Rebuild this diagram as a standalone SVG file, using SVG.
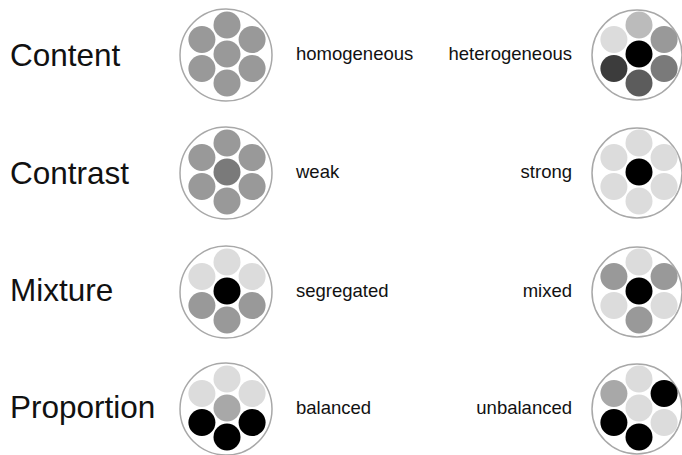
<svg xmlns="http://www.w3.org/2000/svg" width="682" height="455" viewBox="0 0 682 455">
<style>
.bg{fill:#ffffff}
.ring{fill:#ffffff;stroke:#a8a8a8;stroke-width:1.5}
.title{font-family:"Liberation Sans",Arial,sans-serif;font-size:31.5px;fill:#111111}
.lbl{font-family:"Liberation Sans",Arial,sans-serif;font-size:18.5px;fill:#111111}
.end{text-anchor:end}
.k{fill:#000000}
.g1{fill:#dcdcdc}
.g2{fill:#bbbbbb}
.g3{fill:#a8a8a8}
.g4{fill:#999999}
.g5{fill:#7a7a7a}
.g6{fill:#5c5c5c}
.g7{fill:#3c3c3c}
</style>
<defs>
<circle id="d" r="13.5"/>
</defs>
<rect class="bg" width="682" height="455"/>

<!-- row labels -->
<g id="row-content"><text class="title" x="10" y="66">Content</text></g>
<g id="row-contrast"><text class="title" x="10" y="184">Contrast</text></g>
<g id="row-mixture"><text class="title" x="10" y="301">Mixture</text></g>
<g id="row-proportion"><text class="title" x="10" y="418">Proportion</text></g>

<!-- Content: homogeneous -->
<g id="homogeneous">
<circle class="ring" cx="226" cy="55" r="46"/>
<g transform="translate(227,54)">
<use href="#d" class="g4" x="0" y="-29"/>
<use href="#d" class="g4" x="-25.1" y="-14.5"/>
<use href="#d" class="g4" x="25.1" y="-14.5"/>
<use href="#d" class="g4" x="0" y="0"/>
<use href="#d" class="g4" x="-25.1" y="14.5"/>
<use href="#d" class="g4" x="25.1" y="14.5"/>
<use href="#d" class="g4" x="0" y="29"/>
</g>
<text class="lbl" x="296" y="60">homogeneous</text>
</g>

<!-- Content: heterogeneous -->
<g id="heterogeneous">
<circle class="ring" cx="637" cy="55" r="45"/>
<g transform="translate(639,54)">
<use href="#d" class="g2" x="0" y="-29"/>
<use href="#d" class="g1" x="-25.1" y="-14.5"/>
<use href="#d" class="g4" x="25.1" y="-14.5"/>
<use href="#d" class="k" x="0" y="0"/>
<use href="#d" class="g7" x="-25.1" y="14.5"/>
<use href="#d" class="g5" x="25.1" y="14.5"/>
<use href="#d" class="g6" x="0" y="29"/>
</g>
<text class="lbl end" x="572" y="60">heterogeneous</text>
</g>

<!-- Contrast: weak -->
<g id="weak">
<circle class="ring" cx="226" cy="173" r="46"/>
<g transform="translate(227,172)">
<use href="#d" class="g4" x="0" y="-29"/>
<use href="#d" class="g4" x="-25.1" y="-14.5"/>
<use href="#d" class="g4" x="25.1" y="-14.5"/>
<use href="#d" class="g5" x="0" y="0"/>
<use href="#d" class="g4" x="-25.1" y="14.5"/>
<use href="#d" class="g4" x="25.1" y="14.5"/>
<use href="#d" class="g4" x="0" y="29"/>
</g>
<text class="lbl" x="296" y="178">weak</text>
</g>

<!-- Contrast: strong -->
<g id="strong">
<circle class="ring" cx="637" cy="173" r="45"/>
<g transform="translate(639,172)">
<use href="#d" class="g1" x="0" y="-29"/>
<use href="#d" class="g1" x="-25.1" y="-14.5"/>
<use href="#d" class="g1" x="25.1" y="-14.5"/>
<use href="#d" class="k" x="0" y="0"/>
<use href="#d" class="g1" x="-25.1" y="14.5"/>
<use href="#d" class="g1" x="25.1" y="14.5"/>
<use href="#d" class="g1" x="0" y="29"/>
</g>
<text class="lbl end" x="572" y="178">strong</text>
</g>

<!-- Mixture: segregated -->
<g id="segregated">
<circle class="ring" cx="226" cy="292" r="46"/>
<g transform="translate(227,291)">
<use href="#d" class="g1" x="0" y="-29"/>
<use href="#d" class="g1" x="-25.1" y="-14.5"/>
<use href="#d" class="g1" x="25.1" y="-14.5"/>
<use href="#d" class="k" x="0" y="0"/>
<use href="#d" class="g4" x="-25.1" y="14.5"/>
<use href="#d" class="g4" x="25.1" y="14.5"/>
<use href="#d" class="g4" x="0" y="29"/>
</g>
<text class="lbl" x="296" y="297">segregated</text>
</g>

<!-- Mixture: mixed -->
<g id="mixed">
<circle class="ring" cx="637" cy="292" r="45"/>
<g transform="translate(639,291)">
<use href="#d" class="g1" x="0" y="-29"/>
<use href="#d" class="g4" x="-25.1" y="-14.5"/>
<use href="#d" class="g4" x="25.1" y="-14.5"/>
<use href="#d" class="k" x="0" y="0"/>
<use href="#d" class="g1" x="-25.1" y="14.5"/>
<use href="#d" class="g1" x="25.1" y="14.5"/>
<use href="#d" class="g4" x="0" y="29"/>
</g>
<text class="lbl end" x="572" y="297">mixed</text>
</g>

<!-- Proportion: balanced -->
<g id="balanced">
<circle class="ring" cx="226" cy="409" r="46"/>
<g transform="translate(227,408)">
<use href="#d" class="g1" x="0" y="-29"/>
<use href="#d" class="g1" x="-25.1" y="-14.5"/>
<use href="#d" class="g1" x="25.1" y="-14.5"/>
<use href="#d" class="g3" x="0" y="0"/>
<use href="#d" class="k" x="-25.1" y="14.5"/>
<use href="#d" class="k" x="25.1" y="14.5"/>
<use href="#d" class="k" x="0" y="29"/>
</g>
<text class="lbl" x="296" y="414">balanced</text>
</g>

<!-- Proportion: unbalanced -->
<g id="unbalanced">
<circle class="ring" cx="637" cy="409" r="45"/>
<g transform="translate(639,408)">
<use href="#d" class="g1" x="0" y="-29"/>
<use href="#d" class="g3" x="-25.1" y="-14.5"/>
<use href="#d" class="k" x="25.1" y="-14.5"/>
<use href="#d" class="g1" x="0" y="0"/>
<use href="#d" class="k" x="-25.1" y="14.5"/>
<use href="#d" class="g1" x="25.1" y="14.5"/>
<use href="#d" class="k" x="0" y="29"/>
</g>
<text class="lbl end" x="572" y="414">unbalanced</text>
</g>

<g id="connectors"></g>
</svg>
